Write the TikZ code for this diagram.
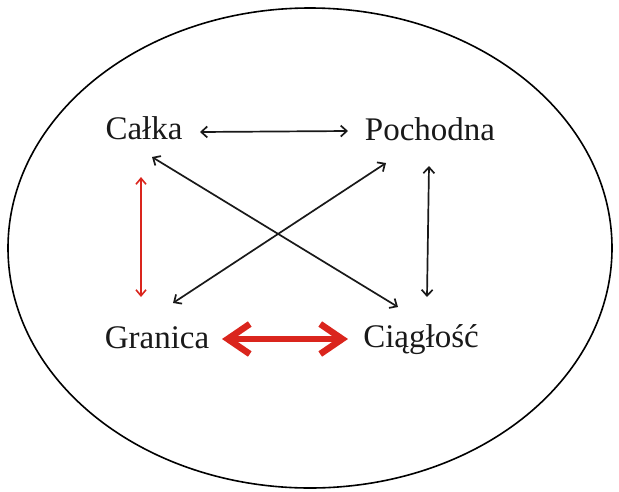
\documentclass[tikz,border=0pt]{standalone}
\usepackage{fontspec}
\setmainfont{Liberation Serif}
\usetikzlibrary{arrows.meta}
\definecolor{arrred}{RGB}{218,37,29}
\begin{document}
\begin{tikzpicture}[x=1pt,y=-1pt,
  lbl/.style={anchor=base,inner sep=0pt,font=\fontsize{33}{36}\selectfont,text=black!90},
  blk/.style={line width=1.7pt,black!90,{Straight Barb[length=6pt,width=11pt]}-{Straight Barb[length=6pt,width=11pt]}},
  redthin/.style={line width=1.6pt,arrred,{Straight Barb[length=6pt,width=10pt]}-{Straight Barb[length=6pt,width=10pt]}},
  redthick/.style={line width=6.5pt,arrred,{Straight Barb[length=22pt,width=30pt]}-{Straight Barb[length=22pt,width=30pt]}}]
\useasboundingbox (0,0) rectangle (619,491);
\draw[line width=1.6pt] (310,248) ellipse [x radius=302, y radius=240];
\node[lbl] (calka) at (144,139) {Całka};
\node[lbl] (poch) at (430,140) {Pochodna};
\node[lbl] (gran) at (157,348) {Granica};
\node[lbl] (ciag) at (421,347) {Ciągłość};
\draw[blk] ([shift={(56,-7)}]calka.base) -- ([shift={(-82,-9)}]poch.base);
\draw[blk] ([shift={(8,18)}]calka.base) -- ([shift={(-23,-40)}]ciag.base);
\draw[blk] ([shift={(-44,23)}]poch.base) -- ([shift={(16,-45)}]gran.base);
\draw[blk] ([shift={(-1,26)}]poch.base) -- ([shift={(6,-50)}]ciag.base);
\draw[redthin] ([shift={(-3,38)}]calka.base) -- ([shift={(-16,-51)}]gran.base);
\draw[redthick] ([shift={(65,-9)}]gran.base) -- ([shift={(-73,-8)}]ciag.base);
\end{tikzpicture}
\end{document}
